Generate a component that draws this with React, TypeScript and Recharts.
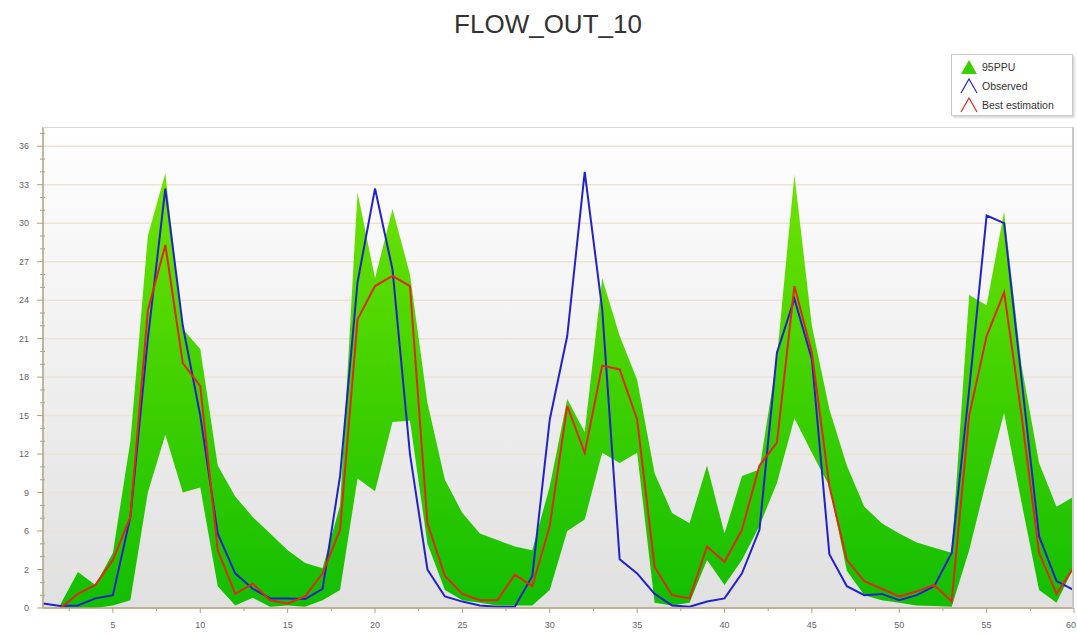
import React from 'react';
import {
  ComposedChart,
  Area,
  Line,
  XAxis,
  YAxis,
  CartesianGrid
} from 'recharts';

const days = [
  1, 2, 3, 4, 5, 6, 7, 8, 9, 10, 11, 12, 13, 14, 15, 16, 17, 18, 19, 20,
  21, 22, 23, 24, 25, 26, 27, 28, 29, 30, 31, 32, 33, 34, 35, 36, 37, 38, 39, 40,
  41, 42, 43, 44, 45, 46, 47, 48, 49, 50, 51, 52, 53, 54, 55, 56, 57, 58, 59, 60
];

const observed = [
  0.35, 0.15, 0.2, 0.75, 1.0, 7.1, 21, 32.7, 22, 15, 5.8, 2.7, 1.5, 0.75, 0.75, 0.7, 1.5, 10.3, 25.4, 32.7,
  26.4, 12, 3, 0.9, 0.5, 0.2, 0.1, 0.1, 2.5, 14.7, 21.2, 34, 23.3, 3.8, 2.7, 1.1, 0.2, 0.1, 0.5, 0.75,
  2.7, 6.1, 19.9, 24.1, 19.4, 4.2, 1.7, 1.0, 1.1, 0.6, 1.0, 1.7, 4.3, 17, 30.6, 30, 17.8, 5.6, 2.1, 1.4
];

const bestEstimation = [
  null, 0, 1.1, 1.8, 3.75, 7.1, 23.2, 28.3, 19.1, 17.3, 4.5, 1.1, 1.9, 0.6, 0.35, 0.9, 2.7, 6.1, 22.5, 25.1,
  25.9, 25.1, 6.6, 2.5, 1.1, 0.6, 0.6, 2.6, 1.7, 6.4, 15.75, 12.1, 18.9, 18.6, 14.7, 3.2, 1.0, 0.75, 4.8, 3.6,
  6.1, 11.1, 12.9, 25.1, 19.9, 9.5, 3.75, 2.1, 1.5, 0.9, 1.3, 1.8, 0.5, 15, 21.2, 24.6, 15, 4.3, 1.1, 3.2
];

const ppuUpper = [
  null, 0.3, 2.8, 1.8, 4.3, 13, 29, 33.9, 21.75, 20.2, 11.1, 8.7, 7.1, 5.8, 4.5, 3.5, 3.1, 8, 32.4, 25.7,
  31.1, 26, 16, 10, 7.4, 5.8, 5.3, 4.8, 4.5, 9.5, 16.3, 13.7, 25.7, 21.2, 17.8, 10.5, 7.4, 6.6, 11.1, 5.8,
  10.3, 10.8, 19.5, 33.8, 22, 15.5, 11.1, 7.9, 6.6, 5.8, 5.1, 4.7, 4.3, 24.4, 23.6, 30.9, 18.9, 11.3, 7.9, 8.7
];

const ppuLower = [
  null, 0, 0, 0, 0.2, 0.6, 9, 13.5, 9, 9.4, 1.7, 0.2, 0.8, 0.1, 0.2, 0.1, 0.6, 1.4, 10.1, 9.1,
  14.5, 14.6, 5, 1.4, 0.6, 0.4, 0.2, 0.2, 0.2, 1.4, 6, 6.9, 12.1, 11.3, 12.1, 0.4, 0.2, 0.4, 3.75, 1.8,
  3.75, 6.4, 9.75, 14.8, 12.1, 9.5, 2.9, 1.0, 0.6, 0.4, 0.2, 0.15, 0.1, 4.5, 10, 15.2, 8.2, 1.4, 0.4, 3.2
];

const xTicks = [2.5, 5, 7.5, 10, 12.5, 15, 17.5, 20, 22.5, 25, 27.5, 30, 32.5, 35, 37.5, 40, 42.5, 45, 47.5, 50, 52.5, 55, 57.5, 60];
const yTicks = [0, 1, 2, 3, 4, 5, 6, 7, 8, 9, 10, 11, 12, 13, 14, 15, 16, 17, 18, 19, 20, 21, 22, 23, 24, 25, 26, 27, 28, 29, 30, 31, 32, 33, 34, 35, 36, 37];
const yMajor = [0, 3, 6, 9, 12, 15, 18, 21, 24, 27, 30, 33, 36];
const yMajorLabels = ['0', '2', '6', '9', '12', '15', '18', '21', '24', '27', '30', '33', '36'];

const seriesNames = ['95PPU', 'Observed', 'Best estimation'];
const seriesColors = ['#3ccf00', '#2222cc', '#dd2a1a'];

const chartData = days.map((d, i) => ({
  day: d,
  observed: observed[i],
  best: bestEstimation[i],
  band: ppuLower[i] == null ? null : [ppuLower[i], ppuUpper[i]]
}));

const AXIS = '#b09f80';
const FONT = '"Liberation Sans", Arial, sans-serif';

const XTick = ({ x, y, payload }: any) => {
  const major = payload.value % 5 === 0;
  const last = payload.value === 60;
  return (
    <g>
      <line x1={x} x2={x} y1={y} y2={y + (major ? 5 : 3)} stroke={AXIS} />
      {major && (
        <text
          x={last ? x + 2 : x}
          y={y + 20}
          textAnchor={last ? 'end' : 'middle'}
          fontSize={9}
          fill="#666"
          fontFamily={FONT}
        >
          {payload.value}
        </text>
      )}
    </g>
  );
};

const YTick = ({ x, y, payload }: any) => {
  const idx = yMajor.indexOf(payload.value);
  const major = idx >= 0;
  return (
    <g>
      <line x1={x - (major ? 6 : 3)} x2={x + (major ? 0 : 2)} y1={y} y2={y} stroke={AXIS} />
      {major && (
        <text x={x - 14} y={y + 3} textAnchor="end" fontSize={9} fill="#666" fontFamily={FONT}>
          {yMajorLabels[idx]}
        </text>
      )}
    </g>
  );
};

// legend drawn outside the chart so it does not eat plot width
const LegendBox = () => (
  <div
    style={{
      position: 'absolute',
      left: 951,
      top: 54,
      width: 122,
      height: 62,
      background: '#fff',
      border: '1px solid #c8c8c8',
      boxShadow: '2px 2px 2px rgba(0,0,0,0.15)',
      fontFamily: FONT,
      fontSize: 10.5,
      color: '#333',
      paddingTop: 2,
      boxSizing: 'border-box'
    }}
  >
    {seriesNames.map((name, i) => (
      <div key={name} style={{ display: 'flex', alignItems: 'center', height: 19, paddingLeft: 8 }}>
        <svg width={18} height={16} style={{ marginRight: 4 }}>
          {i === 0 ? (
            <polygon points="9,1 17,15 1,15" fill={seriesColors[i]} />
          ) : (
            <polyline points="1,15 9,1 17,15" fill="none" stroke={seriesColors[i]} strokeWidth={1.2} />
          )}
        </svg>
        <span>{name}</span>
      </div>
    ))}
  </div>
);

export default function App() {
  return (
    <div style={{ position: 'absolute', left: 0, top: 0, width: 1077, height: 634, background: '#fff' }}>
      <div
        style={{
          position: 'absolute',
          left: 0,
          top: 11,
          width: 1096,
          textAlign: 'center',
          fontFamily: FONT,
          fontSize: 26,
          lineHeight: '26px',
          color: '#333'
        }}
      >
        FLOW_OUT_10
      </div>
      <ComposedChart
        width={1077}
        height={634}
        data={chartData}
        margin={{ top: 127, right: 3, bottom: 0, left: 0 }}
      >
        <defs>
          <linearGradient id="plotBg" x1="0" y1="0" x2="0" y2="1">
            <stop offset="0%" stopColor="#ffffff" />
            <stop offset="100%" stopColor="#e0e0e0" />
          </linearGradient>
          <linearGradient id="ppuFill" x1="0" y1="0" x2="0" y2="1">
            <stop offset="0%" stopColor="#6fe400" />
            <stop offset="100%" stopColor="#12be00" />
          </linearGradient>
        </defs>
        <CartesianGrid
          horizontalValues={yMajor}
          vertical={false}
          stroke="#ebe3d3"
          strokeWidth={1.5}
          fill="url(#plotBg)"
          fillOpacity={1}
        />
        <XAxis
          dataKey="day"
          type="number"
          domain={[1, 60]}
          ticks={xTicks}
          interval={0}
          tickSize={0}
          tickMargin={0}
          tick={<XTick />}
          axisLine={{ stroke: AXIS, strokeWidth: 1.5 }}
          height={26}
          allowDataOverflow
        />
        <YAxis
          type="number"
          domain={[0, 37.5]}
          ticks={yTicks}
          interval={0}
          tickSize={0}
          tickMargin={0}
          tick={<YTick />}
          axisLine={{ stroke: AXIS, strokeWidth: 1.5 }}
          width={43}
          allowDataOverflow
        />
        <Area
          dataKey="band"
          name={seriesNames[0]}
          type="linear"
          stroke="none"
          fill="url(#ppuFill)"
          fillOpacity={1}
          isAnimationActive={false}
          dot={false}
          activeDot={false}
        />
        <Line
          dataKey="observed"
          name={seriesNames[1]}
          type="linear"
          stroke={seriesColors[1]}
          strokeWidth={2}
          dot={false}
          isAnimationActive={false}
        />
        <Line
          dataKey="best"
          name={seriesNames[2]}
          type="linear"
          stroke={seriesColors[2]}
          strokeWidth={2}
          dot={false}
          isAnimationActive={false}
        />
      </ComposedChart>
      <LegendBox />
      {/* plot frame, top and right edges */}
      <div
        style={{
          position: 'absolute',
          left: 43,
          top: 127,
          width: 1031,
          height: 481,
          borderTop: '1px solid #d6d6d6',
          borderRight: '2px solid #c8c8c8',
          boxSizing: 'border-box',
          pointerEvents: 'none'
        }}
      />
    </div>
  );
}
